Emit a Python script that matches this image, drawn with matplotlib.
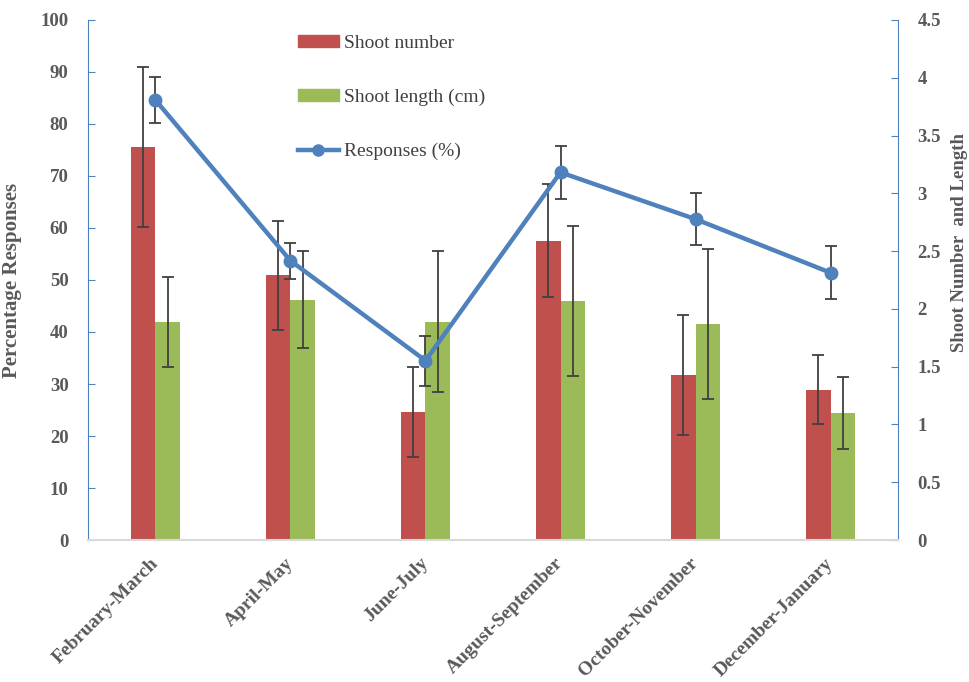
import numpy as np
import matplotlib.pyplot as plt
from matplotlib.patches import Patch
from matplotlib.lines import Line2D

# Seasonal data
seasons = ["February-March", "April-May", "June-July",
           "August-September", "October-November", "December-January"]
shoot_number = [3.40, 2.29, 1.11, 2.59, 1.43, 1.30]
shoot_number_err = [0.69, 0.47, 0.39, 0.49, 0.52, 0.30]
shoot_length = [1.89, 2.08, 1.89, 2.07, 1.87, 1.10]
shoot_length_err = [0.39, 0.42, 0.61, 0.65, 0.65, 0.31]
responses = [84.6, 53.7, 34.5, 70.7, 61.7, 51.4]
responses_err = [4.5, 3.5, 4.8, 5.1, 5.0, 5.1]

red = "#c0504d"
green = "#9bbb59"
blue = "#4f81bd"
grey_txt = "#595959"

plt.rcParams["font.family"] = "Liberation Serif"

fig = plt.figure(figsize=(9.7, 6.82), dpi=100)
ax = fig.add_axes([0.0907, 0.2082, 0.8351, 0.7625])
ax2 = ax.twinx()

x = np.arange(len(seasons))
w = 0.185
err_kw = dict(ecolor="#404040", elinewidth=1.3, capsize=4, capthick=1.3)

ax2.bar(x - w / 2, shoot_number, w, color=red, yerr=shoot_number_err,
        error_kw=err_kw, zorder=2)
ax2.bar(x + w / 2, shoot_length, w, color=green, yerr=shoot_length_err,
        error_kw=err_kw, zorder=2)
ax2.set_ylim(0, 4.5)
ax2.set_yticks(np.arange(0, 4.51, 0.5))
ax2.set_yticklabels([f"{v:g}" for v in np.arange(0, 4.51, 0.5)])

# percentage line sits on top of the bars
ax.set_zorder(ax2.get_zorder() + 1)
ax.patch.set_visible(False)
ax.errorbar(x, responses, yerr=responses_err, color=blue, lw=3.2,
            marker="o", ms=9, ecolor="#404040", elinewidth=1.3,
            capsize=4, capthick=1.3, zorder=3)
ax.set_ylim(0, 100)
ax.set_yticks(range(0, 101, 10))
ax.set_xlim(-0.5, len(seasons) - 0.5)

ax.set_xticks(x)
ax.set_xticklabels(seasons, rotation=45, ha="right", va="center",
                   rotation_mode="anchor", fontsize=14, fontweight="bold",
                   color=grey_txt)
ax.tick_params(axis="x", length=0, pad=15)

for a in (ax, ax2):
    for s in a.spines.values():
        s.set_visible(False)
ax.spines["left"].set_visible(True)
ax.spines["left"].set_color(blue)
ax.spines["bottom"].set_visible(True)
ax.spines["bottom"].set_color("#d9d9d9")
ax.spines["bottom"].set_linewidth(1.5)
ax2.spines["right"].set_visible(True)
ax2.spines["right"].set_color(blue)

ax.tick_params(axis="y", direction="in", length=5, color=blue,
               labelsize=13.5, labelcolor=grey_txt, pad=14)
ax2.tick_params(axis="y", direction="in", length=5, color=blue,
                labelsize=13.5, labelcolor=grey_txt, pad=14)
for lab in ax.get_yticklabels() + ax2.get_yticklabels():
    lab.set_fontweight("bold")

ax.set_ylabel("Percentage Responses", fontsize=15, fontweight="bold",
              color=grey_txt)
ax.yaxis.set_label_coords(-0.081, 0.5)
ax2.set_ylabel("Shoot Number  and Length", fontsize=13.5, fontweight="bold",
               color=grey_txt)
ax2.yaxis.set_label_coords(1.066, 0.573)

handles = [Patch(color=red), Patch(color=green),
           Line2D([], [], color=blue, lw=3.2, marker="o", ms=8)]
labels = ["Shoot number", "Shoot length (cm)", "Responses (%)"]
ax.legend(handles, labels, loc="upper left", bbox_to_anchor=(0.289, 0.975),
          bbox_transform=fig.transFigure, frameon=False, fontsize=14,
          labelspacing=1.9, handlelength=2.1, handleheight=0.55,
          handletextpad=0.3, labelcolor="#404040")

fig.savefig("out.png", dpi=100)
